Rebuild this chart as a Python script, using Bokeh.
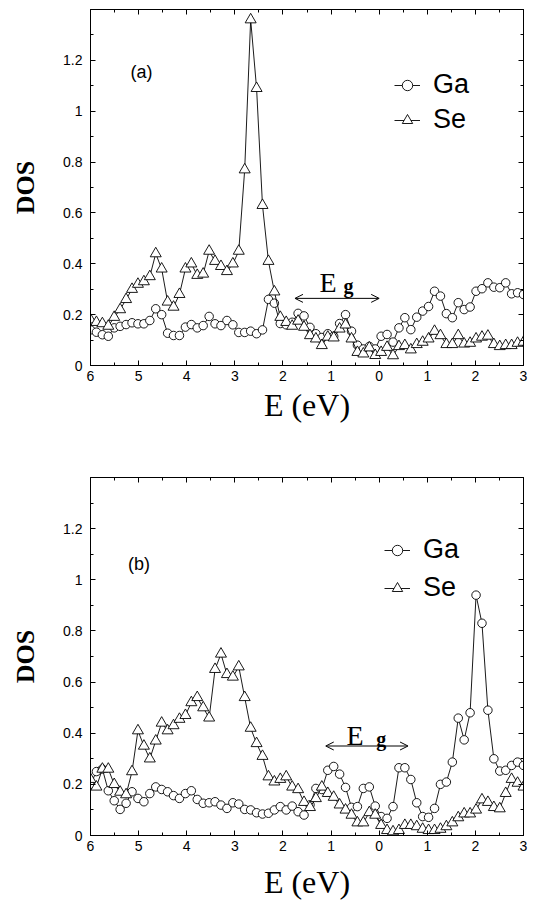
from bokeh.plotting import figure
from bokeh.models import (Range1d, FixedTicker, LinearAxis, CustomJSTickFormatter,
                          Legend, LegendItem, Label, Arrow, OpenHead)
from bokeh.layouts import column
from bokeh.embed import file_html
from bokeh.resources import INLINE

# energy grid (eV)
E = [-6.0, -5.877, -5.753, -5.63, -5.507, -5.384, -5.26, -5.137, -5.014, -4.89,
     -4.767, -4.644, -4.521, -4.397, -4.274, -4.151, -4.027, -3.904, -3.781, -3.658,
     -3.534, -3.411, -3.288, -3.164, -3.041, -2.918, -2.795, -2.671, -2.548, -2.425,
     -2.301, -2.178, -2.055, -1.932, -1.808, -1.685, -1.562, -1.438, -1.315, -1.192,
     -1.068, -0.945, -0.822, -0.699, -0.575, -0.452, -0.329, -0.205, -0.082, 0.041,
     0.164, 0.288, 0.411, 0.534, 0.658, 0.781, 0.904, 1.027, 1.151, 1.274,
     1.397, 1.521, 1.644, 1.767, 1.89, 2.014, 2.137, 2.26, 2.384, 2.507,
     2.63, 2.753, 2.877, 3.0]

ga_a = [0.14, 0.131, 0.121, 0.115, 0.148, 0.154, 0.161, 0.168, 0.164, 0.164,
        0.177, 0.223, 0.20, 0.127, 0.118, 0.118, 0.151, 0.161, 0.148, 0.157,
        0.193, 0.164, 0.157, 0.177, 0.16, 0.13, 0.13, 0.135, 0.125, 0.14,
        0.26, 0.245, 0.165, 0.16, 0.17, 0.205, 0.195, 0.15, 0.125, 0.11,
        0.125, 0.115, 0.165, 0.20, 0.135, 0.08, 0.065, 0.075, 0.065, 0.115,
        0.122, 0.092, 0.148, 0.188, 0.141, 0.19, 0.214, 0.232, 0.292, 0.273,
        0.204, 0.188, 0.247, 0.22, 0.23, 0.292, 0.302, 0.325, 0.308, 0.306,
        0.325, 0.282, 0.286, 0.279]

se_a = [0.18, 0.17, 0.165, 0.155, 0.19, 0.22, 0.26, 0.30, 0.32, 0.33,
        0.35, 0.44, 0.38, 0.25, 0.23, 0.28, 0.38, 0.40, 0.355, 0.36,
        0.45, 0.41, 0.39, 0.37, 0.40, 0.45, 0.77, 1.36, 1.09, 0.63,
        0.41, 0.29, 0.19, 0.17, 0.155, 0.175, 0.151, 0.118, 0.105, 0.079,
        0.112, 0.109, 0.144, 0.16, 0.105, 0.052, 0.046, 0.07, 0.04, 0.052,
        0.072, 0.039, 0.075, 0.079, 0.062, 0.083, 0.092, 0.105, 0.135, 0.118,
        0.083, 0.083, 0.118, 0.085, 0.088, 0.105, 0.112, 0.116, 0.083, 0.075,
        0.079, 0.079, 0.088, 0.092]

ga_b = [0.20, 0.25, 0.26, 0.175, 0.136, 0.102, 0.126, 0.171, 0.145, 0.132,
        0.164, 0.19, 0.18, 0.171, 0.156, 0.145, 0.164, 0.175, 0.141, 0.126,
        0.128, 0.132, 0.119, 0.106, 0.128, 0.123, 0.102, 0.10, 0.089, 0.084,
        0.087, 0.10, 0.113, 0.10, 0.115, 0.093, 0.08, 0.12, 0.184, 0.18,
        0.255, 0.27, 0.24, 0.188, 0.11, 0.113, 0.184, 0.19, 0.115, 0.074,
        0.067, 0.113, 0.265, 0.265, 0.219, 0.128, 0.074, 0.071, 0.106, 0.20,
        0.209, 0.287, 0.459, 0.374, 0.48, 0.94, 0.83, 0.49, 0.30, 0.252,
        0.255, 0.274, 0.287, 0.274]

se_b = [0.22, 0.19, 0.26, 0.26, 0.20, 0.17, 0.16, 0.25, 0.41, 0.35,
        0.30, 0.37, 0.44, 0.41, 0.43, 0.455, 0.47, 0.52, 0.54, 0.50,
        0.46, 0.65, 0.71, 0.63, 0.62, 0.66, 0.54, 0.42, 0.36, 0.31,
        0.23, 0.21, 0.22, 0.23, 0.19, 0.18, 0.13, 0.11, 0.145, 0.19,
        0.165, 0.15, 0.12, 0.10, 0.08, 0.05, 0.05, 0.09, 0.08, 0.04,
        0.02, 0.015, 0.02, 0.04, 0.04, 0.035, 0.025, 0.02, 0.02, 0.025,
        0.035, 0.05, 0.07, 0.085, 0.085, 0.10, 0.14, 0.13, 0.11, 0.105,
        0.165, 0.22, 0.205, 0.19]

X_TICKS = [-6, -5, -4, -3, -2, -1, 0, 1, 2, 3]
X_MINOR = [-5.5, -4.5, -3.5, -2.5, -1.5, -0.5, 0.5, 1.5, 2.5]
Y_TICKS = [0, 0.2, 0.4, 0.6, 0.8, 1.0, 1.2]
Y_MINOR = [0.1, 0.3, 0.5, 0.7, 0.9, 1.1, 1.3]
SERIES = ["Ga", "Se"]

SANS = "Liberation Sans"
SERIF = "Liberation Serif"


def style_axis(ax, labels=True):
    ax.major_tick_in = 5
    ax.major_tick_out = 0
    ax.minor_tick_in = 3
    ax.minor_tick_out = 0
    ax.axis_line_color = "black"
    ax.major_tick_line_color = "black"
    ax.minor_tick_line_color = "black"
    if labels:
        ax.major_label_text_font = SANS
        ax.major_label_text_font_size = "14px"
        ax.major_label_text_color = "black"
    else:
        ax.formatter = CustomJSTickFormatter(code="return '';")
        ax.major_label_text_font_size = "1px"
        ax.major_label_standoff = 0


def panel(ga, se, tag, height, borders, xlab_standoff, legend_loc, legend_spacing,
          tag_pos, arrow, e_pos, g_pos):
    p = figure(width=537, height=height, output_backend="svg", toolbar_location=None,
               x_range=Range1d(-6, 3), y_range=Range1d(0, 1.4))
    p.min_border_top, p.min_border_right, p.min_border_bottom, p.min_border_left = borders
    p.grid.visible = False
    p.outline_line_color = "black"
    p.outline_line_width = 1
    p.background_fill_color = "white"
    p.border_fill_color = "white"

    xt = FixedTicker(ticks=X_TICKS, minor_ticks=X_MINOR)
    yt = FixedTicker(ticks=Y_TICKS, minor_ticks=Y_MINOR)
    p.xaxis.ticker = xt
    p.yaxis.ticker = yt
    p.xaxis.formatter = CustomJSTickFormatter(code="return String(Math.abs(tick));")
    p.yaxis.formatter = CustomJSTickFormatter(code="return String(Math.round(tick*10)/10);")
    style_axis(p.xaxis[0])
    style_axis(p.yaxis[0])
    p.xaxis.major_label_standoff = 5
    p.yaxis.major_label_standoff = 8

    p.xaxis.axis_label = "E (eV)"
    p.xaxis.axis_label_text_font = SERIF
    p.xaxis.axis_label_text_font_size = "32px"
    p.xaxis.axis_label_text_font_style = "normal"
    p.xaxis.axis_label_text_color = "black"
    p.xaxis.axis_label_standoff = xlab_standoff
    p.yaxis.axis_label = "DOS"
    p.yaxis.axis_label_text_font = SERIF
    p.yaxis.axis_label_text_font_size = "26px"
    p.yaxis.axis_label_text_font_style = "bold"
    p.yaxis.axis_label_text_color = "black"
    p.yaxis.axis_label_standoff = 20

    top = LinearAxis(ticker=xt)
    style_axis(top, labels=False)
    p.add_layout(top, "above")
    right = LinearAxis(ticker=yt)
    style_axis(right, labels=False)
    p.add_layout(right, "right")

    gl = p.line(E, ga, line_color="black", line_width=0.9)
    gs = p.scatter(E, ga, marker="circle", size=8.5, fill_color="white",
                   line_color="black", line_width=0.9)
    sl = p.line(E, se, line_color="black", line_width=0.9)
    ss = p.scatter(E, se, marker="triangle", size=11, fill_color="white",
                   line_color="black", line_width=0.9)

    legend = Legend(items=[LegendItem(label=SERIES[0], renderers=[gl, gs]),
                           LegendItem(label=SERIES[1], renderers=[sl, ss])],
                    location=legend_loc, orientation="vertical")
    legend.label_text_font = SANS
    legend.label_text_font_size = "27px"
    legend.label_text_color = "black"
    legend.glyph_width = 26
    legend.glyph_height = 30
    legend.label_height = 30
    legend.label_standoff = 13
    legend.padding = 0
    legend.margin = 0
    legend.spacing = legend_spacing
    legend.border_line_color = None
    legend.background_fill_alpha = 0
    p.add_layout(legend)

    p.add_layout(Label(x=tag_pos[0], y=tag_pos[1], text=tag, text_font=SANS,
                       text_font_size="18px", text_baseline="middle", text_align="left",
                       text_color="black"))
    p.add_layout(Arrow(start=OpenHead(size=8, line_width=1, line_color="black"),
                       end=OpenHead(size=8, line_width=1, line_color="black"),
                       x_start=arrow[0], x_end=arrow[1], y_start=arrow[2], y_end=arrow[2],
                       line_width=1, line_color="black"))
    p.add_layout(Label(x=e_pos[0], y=e_pos[1], text="E", text_font=SERIF,
                       text_font_size="28px", text_baseline="alphabetic",
                       text_align="left", text_color="black"))
    p.add_layout(Label(x=g_pos[0], y=g_pos[1], text="g", text_font=SERIF,
                       text_font_size="20px", text_font_style="bold",
                       text_baseline="alphabetic", text_align="left", text_color="black"))
    return p


pa = panel(ga_a, se_a, "(a)", 455, (9, 14, 90, 90), 3, (304, 230), 4,
           (-5.17, 1.153), (-1.75, 0.0, 0.264), (-1.24, 0.327), (-0.74, 0.311))
pb = panel(ga_b, se_b, "(b)", 447, (22, 10, 63, 89), 10, (294, 232), 7,
           (-5.22, 1.06), (-1.11, 0.6, 0.35), (-0.68, 0.392), (-0.06, 0.377))

layout = column(pa, pb, spacing=0)
open("out.html", "w").write(file_html(layout, INLINE))
